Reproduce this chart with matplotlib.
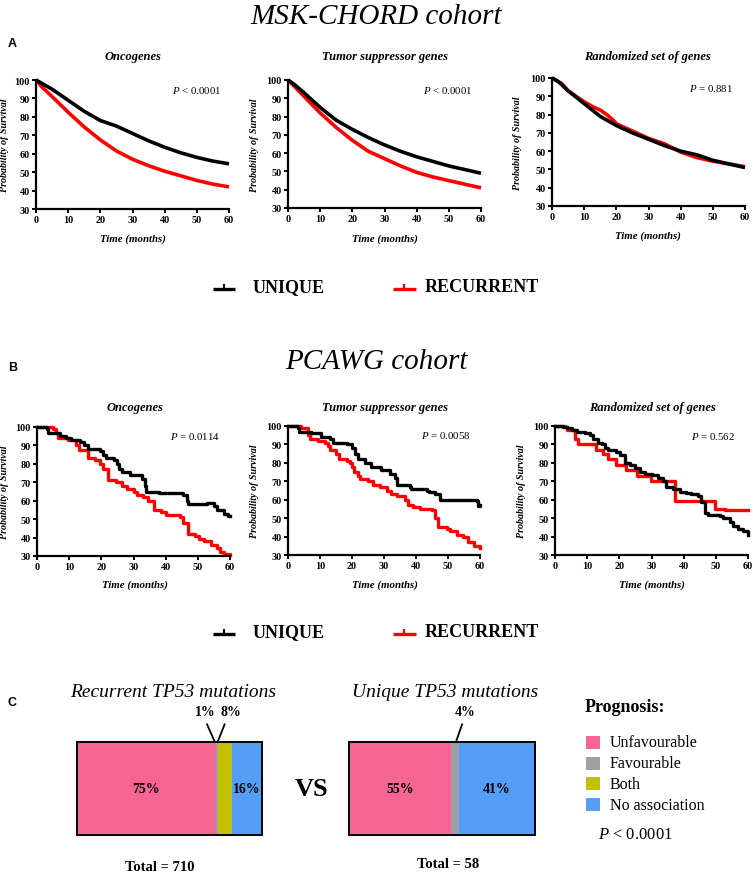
import matplotlib
matplotlib.use("Agg")
import matplotlib.pyplot as plt
from matplotlib.patches import Rectangle
import numpy as np

plt.rcParams['font.family'] = ['Liberation Serif', 'DejaVu Serif']
plt.rcParams['mathtext.fontset'] = 'custom'
plt.rcParams['mathtext.rm'] = 'Liberation Serif'
plt.rcParams['mathtext.it'] = 'Liberation Serif:italic'
plt.rcParams['mathtext.bf'] = 'Liberation Serif:bold'

# ---------------- DATA ----------------
groups = ["UNIQUE", "RECURRENT"]
group_colors = ["#000000", "#FF0000"]
subtitles = ["Oncogenes", "Tumor suppressor genes", "Randomized set of genes"]
x_ticks = [0, 10, 20, 30, 40, 50, 60]
y_ticks = [30, 40, 50, 60, 70, 80, 90, 100]

# MSK-CHORD (large cohort, smooth curves)
msk_t = [0, 2, 5, 10, 15, 20, 25, 30, 35, 40, 45, 50, 55, 60]
msk_onc_unique = [100, 98, 95, 89, 83, 78, 75, 71, 67, 63.5, 60.5, 58, 56, 54.5]
msk_onc_recurrent = [100, 96, 91, 82.5, 74.5, 67.5, 61.5, 57, 53.5, 50.5, 48, 45.5, 43.5, 42]
msk_tsg_unique = [100, 97.5, 93, 85, 78, 73, 68.5, 64.5, 61, 58, 55.5, 53, 51, 49]
msk_tsg_recurrent = [100, 96.5, 91, 82, 74, 67, 61, 57, 53, 49.5, 47, 45, 43, 41]
msk_rnd_unique = [100, 98, 93, 86, 79, 74, 70, 66.5, 63, 60, 58, 55, 53, 51]
msk_rnd_t_rec = [0, 3, 5, 10, 13, 15, 17, 19, 20, 25, 30, 35, 40, 45, 50, 55, 60]
msk_rnd_recurrent = [100, 97, 93, 87, 84, 82.5, 80, 77, 75, 71, 67, 64, 59.5, 56.5, 54.5, 53, 51.5]

msk_p = [r"$\mathit{P}$ < 0.0001", r"$\mathit{P}$ < 0.0001", r"$\mathit{P}$ = 0.881"]

# PCAWG (small cohort, step curves)
pc_onc_u_t = [0, 3, 3.5, 7, 9, 10.5, 13.5, 14.5, 16, 19.5, 20.5, 21.5, 24, 25, 25.5, 26.5, 29, 32.5,
              33.5, 34, 38, 45.5, 46.5, 47, 53, 55, 56, 58, 59.5, 60]
pc_onc_u_s = [100, 99, 97, 95, 94, 93, 92, 90, 88, 87, 85, 83, 82, 80, 77, 75.5, 74, 72,
              68, 65, 64, 63, 60, 58, 58.5, 57, 55, 53, 51.5, 51.5]
pc_onc_r_t = [0, 5, 6, 6.5, 9.5, 12, 13, 16, 18, 19.5, 20.5, 22, 24.5, 26.5, 28, 30, 31, 33, 34.5,
              36.5, 38.5, 40, 44.5, 45.5, 47, 49, 50.5, 52, 54, 56, 57, 58, 60]
pc_onc_r_s = [100, 99, 97, 94, 93, 90, 87.5, 83, 82, 80, 77, 71, 70, 68, 66.5, 65, 63, 62, 60,
              55, 54, 52, 51, 48, 42, 41, 39, 38, 36, 34.5, 32, 31, 30.5]

pc_tsg_u_t = [0, 3, 3.5, 7.3, 10.4, 13, 14, 18.3, 20, 21, 22, 24, 26, 29, 32, 33.4, 34, 38, 38.5,
              43.3, 44, 46, 47.5, 59, 59.5, 60]
pc_tsg_u_s = [100, 99, 97, 96, 94, 93, 91, 90, 88, 85, 82, 80, 78, 76, 74, 72, 68, 67, 66,
              65, 64, 63, 60, 59.5, 56.5, 57]
pc_tsg_r_t = [0, 4, 6.3, 6.8, 9.4, 11.5, 12.5, 13, 15, 16, 18.3, 19.3, 20, 20.5, 22, 22.5, 25,
              26.6, 28.7, 30.8, 32.3, 34, 36.5, 37.6, 39, 41.2, 44.9, 46, 47, 49.6, 50.6, 52.7,
              54.8, 56.3, 58, 60]
pc_tsg_r_s = [100, 99, 95, 93, 92, 91, 89, 87, 85, 82, 81, 80, 78, 75, 73, 71, 70,
              68, 67, 65, 63, 62, 60, 57, 56, 55, 54.5, 50, 45, 44, 43, 41,
              40, 37, 35, 34]

pc_rnd_u_t = [0, 2.6, 3.6, 5.2, 6.7, 9.3, 10.9, 11.9, 13.4, 14.5, 15.5, 16.5, 19.1, 20.2, 21.7,
              23.3, 24.8, 26.4, 27.9, 30, 32, 33.6, 34.6, 36.7, 38.8, 40.8, 42.4, 44.5, 45.5,
              46.5, 47.6, 51.2, 52.2, 54.3, 55.3, 56.9, 58.4, 60]
pc_rnd_u_s = [100, 99.5, 99, 98, 97, 96, 95, 93, 91, 90, 88, 87, 86, 84, 80,
              79, 77, 75, 74, 73.5, 72, 70, 67, 66, 64, 63.5, 63, 62, 59,
              53, 51.5, 51, 50, 48, 46, 44, 43, 41]
pc_rnd_r_t = [0, 3, 3.6, 6.2, 7.2, 12.9, 15, 16.5, 19.1, 22.2, 25.6, 29.8, 37.2, 49.6, 53, 60]
pc_rnd_r_s = [100, 99.5, 98, 93, 90, 87, 85, 82, 79, 76, 73, 70, 59.5, 55, 54.5, 54.5]

pc_p = [r"$\mathit{P}$ = 0.0114", r"$\mathit{P}$ = 0.0058", r"$\mathit{P}$ = 0.562"]

# TP53 prognosis composition
prog_categories = ["Unfavourable", "Favourable", "Both", "No association"]
prog_colors = ["#F66594", "#A0A0A4", "#C2C000", "#559EF7"]
recurrent_pct = [75, 1, 8, 16]
unique_pct = [55, 4, 0, 41]
recurrent_total = 710
unique_total = 58

# ---------------- FIGURE ----------------
W, H = 753, 879
fig = plt.figure(figsize=(W / 100, H / 100), dpi=100)

ov = fig.add_axes([0, 0, 1, 1])
ov.set_xlim(0, W)
ov.set_ylim(H, 0)
ov.axis('off')


def add_ax(x0, y_top, x1, y_bot):
    return fig.add_axes([x0 / W, 1 - y_bot / H, (x1 - x0) / W, (y_bot - y_top) / H])


def T(x, y, s, size, weight='normal', style='normal', ha='center', va='center', family=None, **kw):
    fam = family if family else ['Liberation Serif', 'DejaVu Serif']
    ov.text(x, y, s, fontsize=size, fontweight=weight, fontstyle=style, ha=ha, va=va,
            family=fam, **kw)


def style_km(ax, ylab_px):
    ax.set_xlim(0, 60)
    ax.set_ylim(30, 100)
    ax.set_xticks(x_ticks)
    ax.set_yticks(y_ticks)
    ax.patch.set_alpha(0)
    for s in ['top', 'right']:
        ax.spines[s].set_visible(False)
    for s in ['left', 'bottom']:
        ax.spines[s].set_linewidth(1.6)
    ax.tick_params(width=1.4, length=3, labelsize=7.3, pad=1.5)
    for lab in ax.get_xticklabels() + ax.get_yticklabels():
        lab.set_fontweight('bold')
    ax.set_ylabel("Probability of Survival", fontsize=7.2, fontweight='bold', fontstyle='italic')
    bb = ax.get_position()
    ax.yaxis.set_label_coords((ylab_px / W - bb.x0) / bb.width, 0.5)


def km_smooth(ax, t1, s1, t2, s2):
    ax.plot(t2, s2, color=group_colors[1], lw=2.6, clip_on=False, solid_capstyle='butt')
    ax.plot(t1, s1, color=group_colors[0], lw=2.6, clip_on=False, solid_capstyle='butt')


def km_step(ax, t1, s1, t2, s2):
    ax.step(t2, s2, where='post', color=group_colors[1], lw=2.4, clip_on=False)
    ax.step(t1, s1, where='post', color=group_colors[0], lw=2.4, clip_on=False)


# Panel A
T(12, 44, "A", 9, weight='bold', family=['Liberation Sans'])
T(376, 17, "MSK-CHORD cohort", 21, style='italic')
A_boxes = [(36, 81, 229, 210), (288, 81, 481, 209), (552, 79, 745, 207)]
A_ylab = [9, 259, 522]
A_sub_x = [133, 385, 647]
A_p_pos = [(197, 91), (448, 90), (711, 88)]
A_xlab = [(133, 239), (385, 239), (648, 236)]
A_data = [(msk_t, msk_onc_unique, msk_t, msk_onc_recurrent),
          (msk_t, msk_tsg_unique, msk_t, msk_tsg_recurrent),
          (msk_t, msk_rnd_unique, msk_rnd_t_rec, msk_rnd_recurrent)]
for i in range(3):
    ax = add_ax(*A_boxes[i])
    style_km(ax, A_ylab[i])
    km_smooth(ax, *A_data[i])
    T(A_sub_x[i], 57, subtitles[i], 9, weight='bold', style='italic')
    T(A_p_pos[i][0], A_p_pos[i][1], msk_p[i], 7.8)
    T(A_xlab[i][0], A_xlab[i][1], "Time (months)", 7.8, weight='bold', style='italic')

# Panel B
T(13, 368, "B", 9, weight='bold', family=['Liberation Sans'])
T(376, 362, "PCAWG cohort", 21, style='italic')
B_boxes = [(37, 428, 230, 557), (288, 427, 480, 556), (555, 427, 748, 556)]
B_ylab = [9, 259, 526]
B_sub_x = [135, 385, 652]
B_p_pos = [(195, 437), (446, 436), (713, 437)]
B_xlab_x = [135, 385, 652]
B_data = [(pc_onc_u_t, pc_onc_u_s, pc_onc_r_t, pc_onc_r_s),
          (pc_tsg_u_t, pc_tsg_u_s, pc_tsg_r_t, pc_tsg_r_s),
          (pc_rnd_u_t, pc_rnd_u_s, pc_rnd_r_t, pc_rnd_r_s)]
for i in range(3):
    ax = add_ax(*B_boxes[i])
    style_km(ax, B_ylab[i])
    km_step(ax, *B_data[i])
    T(B_sub_x[i], 408, subtitles[i], 9, weight='bold', style='italic')
    T(B_p_pos[i][0], B_p_pos[i][1], pc_p[i], 7.8)
    T(B_xlab_x[i], 585, "Time (months)", 7.8, weight='bold', style='italic')

# Group legends (A and B)
for ly in [288, 633]:
    for (x0, x1, tx), name, col in zip([(213, 235, 253), (393, 416, 425)], groups, group_colors):
        ov.plot([x0, x1], [ly + 1.5, ly + 1.5], color=col, lw=2.4, solid_capstyle='butt')
        ov.plot([(x0 + x1) / 2, (x0 + x1) / 2], [ly + 1.5, ly - 2.5], color=col, lw=1.5)
        T(tx, ly, name, 13, weight='bold', ha='left')

# Panel C
T(12, 703, "C", 9, weight='bold', family=['Liberation Sans'])
T(173, 693, "Recurrent TP53 mutations", 14, style='italic')
T(445, 693, "Unique TP53 mutations", 14, style='italic')


def comp_bar(box, pcts, inside, callouts):
    ax = add_ax(*box)
    ax.set_xlim(0, 100)
    ax.set_ylim(0, 1)
    ax.axis('off')
    lefts = np.concatenate([[0], np.cumsum(pcts)[:-1]])
    ax.barh([0.5], pcts, left=lefts, height=1, color=prog_colors, edgecolor='none')
    ax.add_patch(Rectangle((0, 0), 100, 1, fill=False, edgecolor='black', lw=1.4, clip_on=False))
    for idx in inside:
        ax.text(lefts[idx] + pcts[idx] / 2, 0.5, f"{pcts[idx]}%", ha='center', va='center',
                fontsize=10, fontweight='bold')
    for idx, (dx_lab, dx_top, dx_bot) in callouts:
        c = lefts[idx] + pcts[idx] / 2
        ax.plot([c + dx_top, c + dx_bot], [1.19, 1.0], color='black', lw=1.3, clip_on=False)
        ax.text(c + dx_lab, 1.33, f"{pcts[idx]}%", ha='center', va='center',
                fontsize=10, fontweight='bold')
    return ax


comp_bar((77, 743, 262, 836), recurrent_pct, [0, 3],
         [(1, (-6.3, -5.2, -1.0)), (2, (3.0, -0.2, -4.0))])
comp_bar((349, 743, 535, 836), unique_pct, [0, 3],
         [(1, (5.4, 3.8, 0.5))])

T(312, 790, "VS", 19, weight='bold')
T(160, 868, f"Total = {recurrent_total}", 10.5, weight='bold')
T(448, 865, f"Total = {unique_total}", 10.5, weight='bold')

# Prognosis legend
T(585, 708, "Prognosis:", 13, weight='bold', ha='left')
leg_y = [743, 764, 785, 806]
for y, name, col in zip(leg_y, prog_categories, prog_colors):
    ov.add_patch(Rectangle((586, y - 6.5), 14, 13, facecolor=col, edgecolor='none'))
    T(610, y, name, 11.5, ha='left')
T(598, 835, r"$\mathit{P}$ < 0.0001", 12, ha='left')

fig.savefig("out.png", dpi=100)
